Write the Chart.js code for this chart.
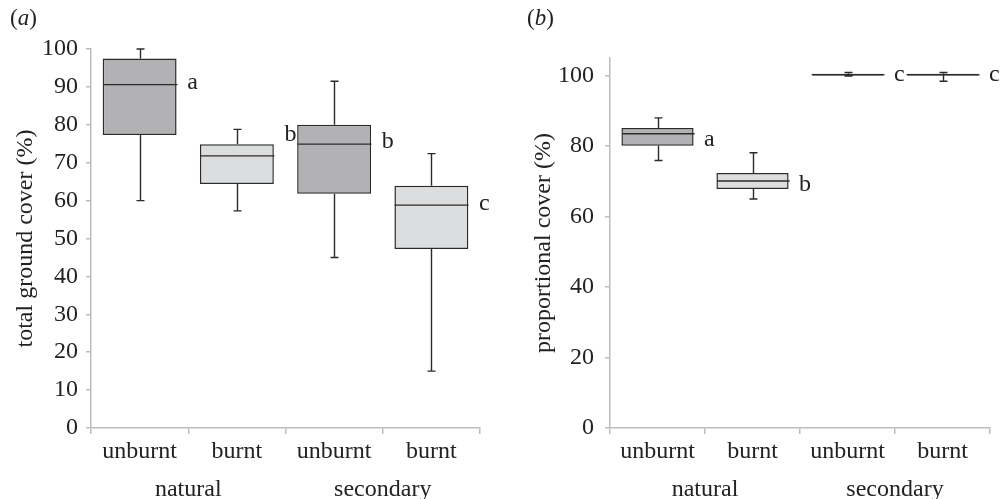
<!DOCTYPE html>
<html>
<head>
<meta charset="utf-8">
<script src="https://cdn.jsdelivr.net/npm/chart.js@4/dist/chart.umd.min.js"></script>
<style>
  html, body { margin: 0; padding: 0; background: #fff; }
  body { width: 1001px; height: 499px; position: relative; overflow: hidden; }
  .panel { position: absolute; top: 0; height: 499px; }
  .tag { position: absolute; top: 5px; font: 23px "Liberation Serif", serif; color: #222; }
</style>
</head>
<body>
<div class="panel" style="left:0;width:500px"><canvas id="totalChart" width="500" height="499"></canvas></div>
<div class="panel" style="left:500px;width:501px"><canvas id="propChart" width="501" height="499"></canvas></div>
<div class="tag" style="left:10px">(<i>a</i>)</div>
<div class="tag" style="left:527px">(<i>b</i>)</div>
<script>
// treatments along the x axis, grouped by site
const treatments = ["unburnt", "burnt", "unburnt", "burnt"];
const sites = ["natural", "secondary"];

// (a) total ground cover (%)
const totalMin = [60, 57.3, 45, 15];
const totalQ1 = [77.3, 64.4, 61.8, 47.2];
const totalMedian = [90.6, 71.8, 74.9, 58.8];
const totalQ3 = [97.5, 74.9, 80.0, 63.9];
const totalMax = [100, 78.8, 91.5, 72.4];
const totalLetters = ["a", "b", "b", "c"];
const totalLetterAt = [91.2, 77.3, 75.5, 59.1];
const totalTicks = [0, 10, 20, 30, 40, 50, 60, 70, 80, 90, 100];

// (b) proportional cover (%)
const propMin = [75.9, 65.0, 99.9, 98.4];
const propQ1 = [80.1, 67.8, 100.0, 100.0];
const propMedian = [83.5, 70.1, 100.2, 100.2];
const propQ3 = [85.1, 72.4, 100.5, 100.5];
const propMax = [88.0, 78.1, 100.9, 100.9];
const propLetters = ["a", "b", "c", "c"];
const propLetterAt = [81.7, 69.0, 100.4, 100.4];
const propTicks = [0, 20, 40, 60, 80, 100];

const INK = "#2b2b2b";
const AXIS = "#bdbdbd";
const DARK = "#b2b2b4";
const LIGHT = "#dcdddf";

Chart.defaults.font.family = '"Liberation Serif", "Times New Roman", serif';
Chart.defaults.font.size = 24;
Chart.defaults.color = "#222";

// medians, whiskers and significance letters on top of the floating bars
const boxWhiskers = {
    id: "boxWhiskers",
    afterDatasetsDraw(chart, args, opts) {
        const ctx = chart.ctx;
        const xs = chart.scales.x;
        const ys = chart.scales.y;
        const meta = chart.getDatasetMeta(0);
        const step = xs.width / treatments.length;
        ctx.save();
        ctx.strokeStyle = INK;
        ctx.lineWidth = 1.4;
        meta.data.forEach(function (bar, i) {
            const cx = Math.round(bar.x) + 0.5;
            const half = bar.width / 2;
            const yMed = ys.getPixelForValue(opts.median[i]);
            const yHi = ys.getPixelForValue(opts.max[i]);
            const yLo = ys.getPixelForValue(opts.min[i]);
            const yQ3 = ys.getPixelForValue(opts.q3[i]);
            const yQ1 = ys.getPixelForValue(opts.q1[i]);
            ctx.beginPath();
            ctx.moveTo(cx - half, yMed);
            ctx.lineTo(cx + half, yMed);
            // upper whisker
            ctx.moveTo(cx, yQ3);
            ctx.lineTo(cx, yHi);
            ctx.moveTo(cx - 4, yHi);
            ctx.lineTo(cx + 4, yHi);
            // lower whisker
            ctx.moveTo(cx, yQ1);
            ctx.lineTo(cx, yLo);
            ctx.moveTo(cx - 4, yLo);
            ctx.lineTo(cx + 4, yLo);
            ctx.stroke();
        });
        ctx.fillStyle = "#222";
        ctx.font = '24px "Liberation Serif", serif';
        ctx.textAlign = "left";
        ctx.textBaseline = "middle";
        opts.letters.forEach(function (t, i) {
            const bx = xs.getPixelForValue(i) + step / 2 - 1;
            ctx.fillText(t, bx, ys.getPixelForValue(opts.letterAt[i]));
        });
        ctx.restore();
    }
};

function makeBoxChart(canvasId, cfg) {
    const canvas = document.getElementById(canvasId);
    return new Chart(canvas.getContext("2d"), {
        type: "bar",
        data: {
            labels: treatments,
            datasets: [
                {
                    data: cfg.q1.map(function (v, i) { return [v, cfg.q3[i]]; }),
                    backgroundColor: [DARK, LIGHT, DARK, LIGHT],
                    borderColor: INK,
                    borderWidth: 1.5,
                    borderSkipped: false,
                    categoryPercentage: 1,
                    barPercentage: 0.76,
                },
            ],
        },
        options: {
            responsive: false,
            animation: false,
            layout: { padding: { top: cfg.top, right: cfg.right, left: 0, bottom: 0 } },
            plugins: {
                legend: { display: false },
                tooltip: { enabled: false },
                boxWhiskers: cfg,
            },
            scales: {
                x: {
                    grid: { display: true, offset: true, drawOnChartArea: false, drawTicks: true, tickLength: 6, color: AXIS, lineWidth: 1.5 },
                    border: { display: true, color: AXIS, width: 1.5 },
                    ticks: { padding: 3, color: "#222" },
                    afterFit: function (s) { s.height = 34; },
                },
                site: {
                    type: "category",
                    position: "bottom",
                    labels: sites,
                    offset: true,
                    weight: 1,
                    grid: { display: false },
                    border: { display: false },
                    ticks: { padding: 5, color: "#222" },
                    afterFit: function (s) { s.height = 37; },
                },
                y: {
                    min: 0,
                    max: cfg.yMax,
                    ticks: { stepSize: cfg.yStep, padding: cfg.tickPad, color: "#222" },
                    afterBuildTicks: function (s) {
                        s.ticks = cfg.ticks.map(function (v) { return { value: v }; });
                    },
                    grid: { display: true, drawOnChartArea: false, drawTicks: true, tickLength: 5, color: AXIS, lineWidth: 1.5 },
                    border: { display: true, color: AXIS, width: 1.5 },
                    title: { display: true, text: cfg.title, color: "#222", padding: { top: cfg.titlePad, bottom: 0 } },
                    afterFit: function (s) { s.width = cfg.axisWidth; },
                },
            },
        },
        plugins: [boxWhiskers],
    });
}

makeBoxChart("totalChart", {
    min: totalMin, q1: totalQ1, median: totalMedian, q3: totalQ3, max: totalMax,
    letters: totalLetters, letterAt: totalLetterAt, ticks: totalTicks,
    yMax: 100, yStep: 10, title: "total ground cover (%)",
    top: 49, right: 20, axisWidth: 91, titlePad: 11, tickPad: 8,
});

makeBoxChart("propChart", {
    min: propMin, q1: propQ1, median: propMedian, q3: propQ3, max: propMax,
    letters: propLetters, letterAt: propLetterAt, ticks: propTicks,
    yMax: 105, yStep: 20, title: "proportional cover (%)",
    top: 58, right: 11, axisWidth: 110, titlePad: 29, tickPad: 11,
});
</script>
</body>
</html>
